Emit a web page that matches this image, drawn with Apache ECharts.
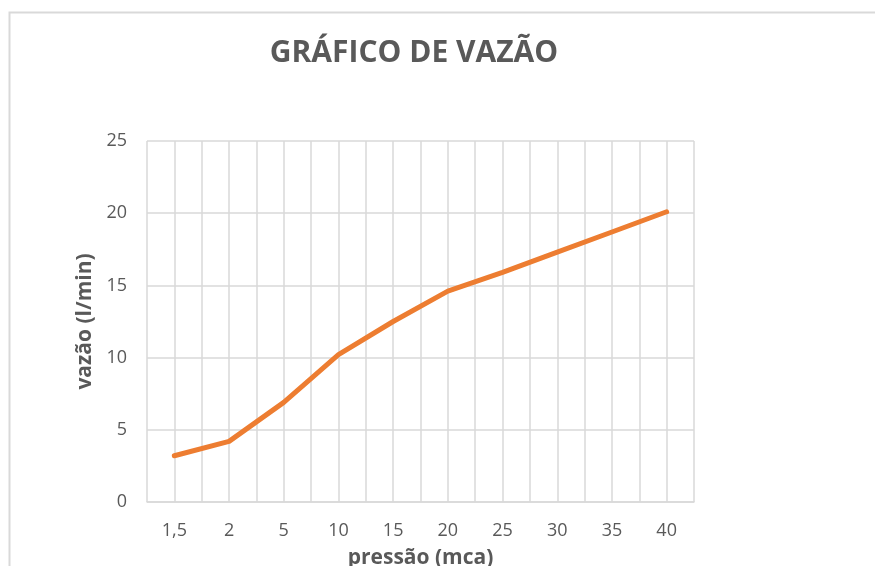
<!DOCTYPE html>
<html>
<head>
<meta charset="utf-8">
<script src="https://cdn.jsdelivr.net/npm/echarts@6/dist/echarts.min.js"></script>
<style>
  html, body { margin: 0; padding: 0; background: #fff; }
  #chart { width: 875px; height: 566px; }
</style>
</head>
<body>
<div id="chart"></div>
<script>
var pressao = ['1,5', '2', '5', '10', '15', '20', '25', '30', '35', '40'];
var vazao = [3.2, 4.2, 6.9, 10.2, 12.5, 14.6, 15.9, 17.3, 18.7, 20.1];
var yTicks = [0, 5, 10, 15, 20, 25];

var chart = echarts.init(document.getElementById('chart'));

var textColor = '#595959';
var gridColor = '#d9d9d9';

var option = {
    animation: false,
    backgroundColor: '#fff',
    title: {
        text: 'GRÁFICO DE VAZÃO',
        left: 409,
        top: 33,
        textAlign: 'center',
        textStyle: {
            color: textColor,
            fontFamily: 'Open Sans',
            fontWeight: 'bold',
            fontSize: 30
        }
    },
    graphic: [{
        type: 'rect',
        shape: { x: 9.5, y: 12.5, width: 900, height: 600 },
        style: { fill: 'none', stroke: gridColor, lineWidth: 2 },
        silent: true
    }],
    grid: {
        left: 147,
        right: 181,
        top: 141,
        bottom: 64,
        outerBoundsMode: 'none'
    },
    xAxis: [{
        type: 'category',
        data: pressao,
        boundaryGap: true,
        name: 'pressão (mca)',
        nameLocation: 'middle',
        nameGap: 46,
        nameTextStyle: {
            color: textColor,
            fontFamily: 'Open Sans',
            fontWeight: 'bold',
            fontSize: 21
        },
        axisLine: { lineStyle: { color: gridColor, width: 1.5 } },
        axisTick: { show: false },
        axisLabel: {
            color: textColor,
            fontFamily: 'Open Sans',
            fontSize: 18,
            margin: 20
        },
        splitLine: { show: false }
    }, {
        // half-category gridlines
        type: 'value',
        position: 'bottom',
        min: 0,
        max: pressao.length * 2,
        interval: 1,
        axisLine: { show: false },
        axisTick: { show: false },
        axisLabel: { show: false },
        splitLine: { show: true, lineStyle: { color: gridColor, width: 1.5 } }
    }],
    yAxis: {
        type: 'value',
        min: yTicks[0],
        max: yTicks[yTicks.length - 1],
        interval: 5,
        name: 'vazão (l/min)',
        nameLocation: 'middle',
        nameGap: 44,
        nameTextStyle: {
            color: textColor,
            fontFamily: 'Open Sans',
            fontWeight: 'bold',
            fontSize: 21
        },
        axisLine: { show: false },
        axisTick: { show: false },
        axisLabel: {
            color: textColor,
            fontFamily: 'Open Sans',
            fontSize: 18,
            margin: 20
        },
        splitLine: { lineStyle: { color: gridColor, width: 1.5 } }
    },
    series: [{
        type: 'line',
        data: vazao,
        xAxisIndex: 0,
        symbol: 'none',
        lineStyle: { color: '#ED7D31', width: 5, cap: 'round', join: 'round' },
        z: 5
    }]
};

chart.setOption(option);

window.addEventListener('resize', function(){
    chart.resize();
});
</script>
</body>
</html>
